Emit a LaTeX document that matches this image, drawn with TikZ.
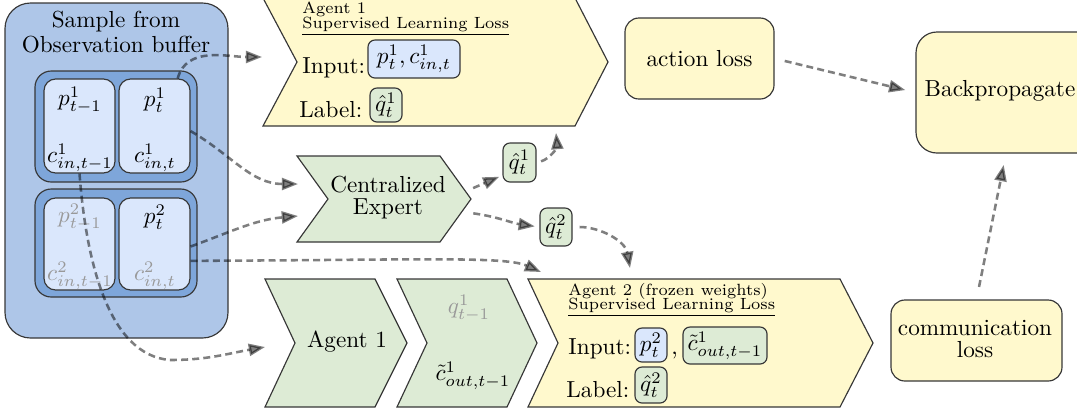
\documentclass[tikz,border=0pt]{standalone}
\usetikzlibrary{arrows.meta,fit,calc}
\definecolor{bufout}{RGB}{174,198,232}
\definecolor{bufgrp}{RGB}{126,166,218}
\definecolor{cellblue}{RGB}{218,231,252}
\definecolor{yel}{RGB}{255,249,205}
\definecolor{grn}{RGB}{221,235,213}
\definecolor{edge}{RGB}{55,55,55}
\begin{document}
\begin{tikzpicture}[x=0.431pt,y=0.431pt,
  conn/.style={draw=black, opacity=0.5, line width=1.1pt, dash pattern=on 3pt off 1.8pt, -{Triangle[length=7pt,width=5.2pt]}},
  fitbox/.style={rectangle, inner sep=0pt, draw=edge, line width=0.5pt},
  cellbox/.style={fitbox, fill=cellblue, rounded corners=5pt},
  inbox/.style={fitbox, fill=cellblue, rounded corners=3pt},
  gbox/.style={fitbox, fill=grn, rounded corners=3pt},
  ybox/.style={fitbox, fill=yel, rounded corners=6pt},
  yshape/.style={fill=yel, draw=edge, line width=0.5pt},
  gshape/.style={fill=grn, draw=edge, line width=0.5pt},
  lab/.style={inner sep=0pt},
  small/.style={inner sep=0pt, anchor=base west, font=\scriptsize},
  faded/.style={text=black!40}
]
\useasboundingbox (0,0) rectangle (1077,-415);

% ---------- observation buffer ----------
\node[fitbox, fill=bufout, rounded corners=11pt, fit={(5,-3)(228,-338)}] (buf) {};
\node[lab] (buft1) at (116,-22) {Sample from};
\node[lab] (buft2) at (116,-45) {Observation buffer};
\node[fitbox, fill=bufgrp, rounded corners=7pt, fit={(35,-71)(197,-182)}] (g1) {};
\node[fitbox, fill=bufgrp, rounded corners=7pt, fit={(35,-189)(197,-297)}] (g2) {};
\node[cellbox, fit={(44,-79)(115,-173)}] (c11) {};
\node[cellbox, fit={(119,-79)(190,-173)}] (c12) {};
\node[cellbox, fit={(44,-198)(115,-290)}] (c21) {};
\node[cellbox, fit={(119,-198)(190,-290)}] (c22) {};
\node[lab] (c11p) at (80,-100) {$p^1_{t-1}$};
\node[lab] (c11c) at (80,-158) {$c^1_{in,t-1}$};
\node[lab] (c12p) at (155,-100) {$p^1_{t}$};
\node[lab] (c12c) at (155,-158) {$c^1_{in,t}$};
\node[lab, faded] (c21p) at (80,-217) {$p^2_{t-1}$};
\node[lab, faded] (c21c) at (80,-276) {$c^2_{in,t-1}$};
\node[lab] (c22p) at (155,-217) {$p^2_{t}$};
\node[lab, faded] (c22c) at (155,-276) {$c^2_{in,t}$};

% ---------- Agent 1 supervised learning loss ----------
\draw[yshape] (263,2) -- (575,2) -- (608,-62) -- (575,-126) -- (263,-126) -- (297,-62) -- cycle;
\coordinate (a1in) at (262,-57);
\coordinate (a1bot) at (556,-133);
\node[small] (a1t) at (302,-13) {Agent 1};
\node[small] (a1s) at (302,-28) {\underline{Supervised Learning Loss}};
\node[lab, anchor=base west] (a1i) at (302,-73) {Input:};
\node[inbox, fit={(368,-40)(460,-78)}] (a1ib) {};
\node[lab] (a1ibt) at (a1ib.center) {$p^1_t, c^1_{in,t}$};
\node[lab, anchor=base west] (a1l) at (299,-117) {Label:};
\node[gbox, fit={(370,-88)(402,-122)}] (a1lb) {};
\node[lab] (a1lbt) at (a1lb.center) {$\hat{q}^1_t$};

% ---------- Centralized expert ----------
\draw[gshape] (297,-156) -- (440,-156) -- (471,-199) -- (440,-242) -- (297,-242) -- (328,-199) -- cycle;
\node[lab] (cet1) at (388,-185) {Centralized};
\node[lab] (cet2) at (388,-209) {Expert};
\coordinate (cein1) at (298,-184);
\coordinate (cein2) at (298,-216);
\coordinate (ceout1) at (471,-189);
\coordinate (ceout2) at (471,-213);

\node[gbox, fit={(503,-143)(536,-182)}] (q1) {};
\node[lab] (q1t) at (q1.center) {$\hat{q}^1_t$};
\node[gbox, fit={(540,-208)(572,-246)}] (q2) {};
\node[lab] (q2t) at (q2.center) {$\hat{q}^2_t$};

% ---------- bottom row ----------
\draw[gshape] (265,-279) -- (375,-279) -- (407,-343) -- (375,-407) -- (265,-407) -- (295,-343) -- cycle;
\node[lab] (ag1) at (347,-342) {Agent 1};
\coordinate (ag1in) at (265,-347);
\draw[gshape] (397,-279) -- (507,-279) -- (537,-343) -- (507,-407) -- (397,-407) -- (427,-343) -- cycle;
\node[lab, faded] (qprev) at (469,-308) {$q^1_{t-1}$};
\node[lab] (cout) at (473,-376) {$\tilde{c}^1_{out,t-1}$};

\draw[yshape] (528,-279) -- (840,-279) -- (873,-343) -- (840,-407) -- (528,-407) -- (558,-343) -- cycle;
\coordinate (a2in) at (541,-272);
\coordinate (a2top) at (630,-268);
\node[small] (a2t) at (568,-295) {Agent 2 (frozen weights)};
\node[small] (a2s) at (568,-309) {\underline{Supervised Learning Loss}};
\node[lab, anchor=base west] (a2i) at (568,-354) {Input:};
\node[inbox, fit={(635,-328)(667,-362)}] (a2ib) {};
\node[lab] (a2ibt) at (a2ib.center) {$p^2_t$};
\node[lab, anchor=base west] (a2comma) at (671,-354) {,};
\node[gbox, fit={(683,-327)(767,-364)}] (a2cb) {};
\node[lab] (a2cbt) at (a2cb.center) {$\tilde{c}^1_{out,t-1}$};
\node[lab, anchor=base west] (a2l) at (566,-397) {Label:};
\node[gbox, fit={(635,-367)(667,-403)}] (a2lb) {};
\node[lab] (a2lbt) at (a2lb.center) {$\hat{q}^2_t$};

% ---------- losses ----------
\node[ybox, fit={(625,-18)(774,-99)}] (al) {};
\node[lab] (alt) at (al.center) {action loss};
\node[ybox, rounded corners=9pt, fit={(916,-32)(1110,-153)}] (bp) {};
\node[lab] (bpt) at (1000,-91) {Backpropagate};
\node[ybox, fit={(891,-300)(1062,-381)}] (cl) {};
\node[lab] (clt1) at (975,-328) {communication};
\node[lab] (clt2) at (975,-350) {loss};

% ---------- connectors ----------
\draw[conn] (c12.64) to[out=75, in=180] (a1in);
\draw[conn] (c12.-8) to[out=-30, in=180] (cein1);
\draw[conn] (c22.-4) to[out=20, in=185] (cein2);
\draw[conn] (c22.-25) .. controls (420,-260) and (505,-256) .. (a2in);
\draw[conn] (c11.south) .. controls (86,-260) and (108,-355) .. (170,-360) to[out=0, in=190] (ag1in);
\draw[conn, shorten <=1pt, shorten >=1.5pt] (ceout1) -- (q1.217);
\draw[conn, shorten <=2pt] (q1.east) to[out=15, in=-85] (a1bot);
\draw[conn, shorten <=1pt, shorten >=2pt] (ceout2) to[out=-8, in=172] (q2.west);
\draw[conn, shorten <=3pt] (q2.east) to[out=0, in=100] (a2top);
\draw[conn, shorten <=4.5pt, shorten >=4.5pt] (al.east) -- (bp.west);
\draw[conn, shorten <=5.5pt, shorten >=5pt] (cl.north) -- ($(bp.south)+(-7,0)$);
\end{tikzpicture}
\end{document}
